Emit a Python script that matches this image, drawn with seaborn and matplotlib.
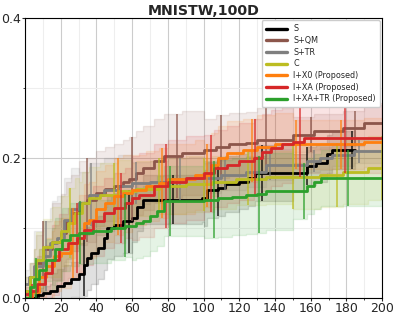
import numpy as np
import matplotlib
matplotlib.use("Agg")
import matplotlib.pyplot as plt
from matplotlib.ticker import MultipleLocator, FormatStrFormatter
import seaborn as sns

# step breakpoints (iteration, mean value)
s_x = [0, 6, 10, 14, 18, 22, 26, 30, 33, 35, 37, 41, 44, 46, 50, 55, 60, 63, 66, 99,
       102, 108, 112, 120, 125, 129, 158, 163, 169, 172, 185]
s_y = [0.0, 0.003, 0.006, 0.01, 0.016, 0.021, 0.026, 0.033, 0.047, 0.056, 0.064, 0.071, 0.085, 0.1, 0.104,
       0.109, 0.114, 0.13, 0.14, 0.143, 0.154, 0.157, 0.162, 0.166, 0.171, 0.178, 0.188, 0.192, 0.205, 0.211, 0.211]

sqm_x = [0, 3, 6, 10, 15, 20, 23, 26, 30, 35, 40, 45, 50, 55, 58, 62, 66, 72, 78, 88,
         100, 107, 114, 124, 130, 150, 162, 178, 190, 200]
sqm_y = [0.01, 0.03, 0.05, 0.07, 0.08, 0.093, 0.11, 0.121, 0.135, 0.14, 0.15, 0.155, 0.159, 0.165, 0.17,
         0.178, 0.185, 0.195, 0.202, 0.207, 0.211, 0.216, 0.219, 0.221, 0.226, 0.233, 0.238, 0.242, 0.25, 0.25]

str_x = [0, 2, 5, 10, 14, 18, 22, 26, 30, 36, 44, 52, 60, 70, 80, 92, 110, 124, 135, 158,
         165, 172, 184, 200]
str_y = [0.02, 0.03, 0.045, 0.059, 0.078, 0.085, 0.111, 0.126, 0.135, 0.147, 0.154, 0.159, 0.164, 0.166,
         0.169, 0.171, 0.176, 0.18, 0.19, 0.195, 0.199, 0.204, 0.209, 0.209]

c_x = [0, 3, 6, 10, 15, 20, 24, 28, 32, 36, 42, 52, 62, 75, 90, 105, 118, 135, 165, 178, 192, 200]
c_y = [0.01, 0.03, 0.054, 0.073, 0.08, 0.095, 0.107, 0.121, 0.135, 0.142, 0.147, 0.152, 0.156, 0.159,
       0.162, 0.165, 0.17, 0.172, 0.175, 0.18, 0.185, 0.185]

ix0_x = [0, 4, 8, 12, 16, 20, 26, 30, 33, 36, 40, 45, 50, 55, 60, 68, 75, 80, 95, 104,
         108, 113, 122, 130, 140, 190, 200]
ix0_y = [0.0, 0.008, 0.03, 0.045, 0.059, 0.064, 0.078, 0.092, 0.107, 0.111, 0.126, 0.135, 0.145, 0.149,
         0.154, 0.159, 0.164, 0.169, 0.175, 0.19, 0.2, 0.207, 0.211, 0.216, 0.219, 0.222, 0.222]

ixa_x = [0, 3, 7, 11, 15, 19, 24, 29, 33, 38, 44, 50, 56, 60, 64, 72, 80, 90, 100, 106,
         113, 120, 128, 133, 138, 144, 150, 156, 200]
ixa_y = [0.005, 0.01, 0.02, 0.035, 0.054, 0.069, 0.078, 0.085, 0.097, 0.11, 0.121, 0.128, 0.135, 0.143,
         0.147, 0.159, 0.166, 0.171, 0.178, 0.185, 0.19, 0.195, 0.2, 0.208, 0.214, 0.219, 0.223, 0.228, 0.228]

ixatr_x = [0, 3, 5, 8, 12, 17, 21, 25, 30, 38, 48, 56, 62, 66, 70, 74, 78, 100, 108, 116,
           124, 130, 135, 158, 162, 166, 200]
ixatr_y = [0.0, 0.015, 0.026, 0.04, 0.054, 0.069, 0.083, 0.09, 0.093, 0.095, 0.099, 0.103, 0.107, 0.109,
           0.116, 0.124, 0.138, 0.14, 0.142, 0.144, 0.146, 0.148, 0.152, 0.16, 0.166, 0.171, 0.171]

# std (band / error bar half width) on a coarse grid
std_x = [0, 5, 15, 30, 60, 100, 150]
s_sd = [0.005, 0.01, 0.025, 0.045, 0.035, 0.04, 0.027]
sqm_sd = [0.02, 0.04, 0.055, 0.06, 0.06, 0.045, 0.025]
str_sd = [0.02, 0.05, 0.06, 0.045, 0.03, 0.022, 0.016]
c_sd = [0.02, 0.04, 0.05, 0.045, 0.04, 0.038, 0.046]
ix0_sd = [0.01, 0.04, 0.05, 0.055, 0.05, 0.045, 0.035]
ixa_sd = [0.01, 0.04, 0.05, 0.05, 0.06, 0.055, 0.05]
ixatr_sd = [0.005, 0.03, 0.045, 0.045, 0.05, 0.055, 0.04]

labels = ["S", "S+QM", "S+TR", "C", "I+X0 (Proposed)", "I+XA (Proposed)", "I+XA+TR (Proposed)"]
colors = ["black", "#8c564b", "#7f7f7f", "#bcbd22", "#ff7f0e", "#d62728", "#2ca02c"]
err_offsets = [8, 10, 12, 0, 2, 4, 6]

series = [(s_x, s_y, s_sd), (sqm_x, sqm_y, sqm_sd), (str_x, str_y, str_sd), (c_x, c_y, c_sd),
          (ix0_x, ix0_y, ix0_sd), (ixa_x, ixa_y, ixa_sd), (ixatr_x, ixatr_y, ixatr_sd)]


def hold(bx, by, x):
    # hold the last breakpoint value (step function)
    idx = np.searchsorted(bx, x, side="right") - 1
    return np.asarray(by)[idx]


sns.set_style("ticks")
fig, ax = plt.subplots(figsize=(3.96, 3.16), dpi=100)
fig.subplots_adjust(left=0.063, right=0.965, bottom=0.0585, top=0.943)

for (bx, by, bsd), lab, col, off in zip(series, labels, colors, err_offsets):
    x = np.arange(0, bx[-1] + 1)
    m = hold(bx, by, x)
    sd = hold(std_x, bsd, x)
    ax.fill_between(x, m - sd, m + sd, step="post", color=col, alpha=0.12, lw=1)
    sns.lineplot(x=x, y=m, color=col, lw=2, drawstyle="steps-post", label=lab, ax=ax)
    ax.errorbar(x, m, yerr=sd, fmt="none", ecolor=col, elinewidth=1.2, alpha=0.8,
                errorevery=(off, 25))

ax.set_xlim(0, 200)
ax.set_ylim(0, 0.4)
ax.xaxis.set_major_locator(MultipleLocator(20))
ax.xaxis.set_minor_locator(MultipleLocator(10))
ax.yaxis.set_major_locator(MultipleLocator(0.2))
ax.yaxis.set_minor_locator(MultipleLocator(0.1))
ax.yaxis.set_major_formatter(FormatStrFormatter("%.1f"))
ax.grid(True, which="major", color="#cccccc", lw=0.8)
ax.grid(True, which="minor", color="#eeeeee", lw=0.8)
ax.set_axisbelow(True)
ax.tick_params(labelsize=9, length=2, pad=1)
ax.tick_params(which="minor", length=1.5)
for sp in ax.spines.values():
    sp.set_color("black")
    sp.set_linewidth(0.8)

ax.set_title("MNISTW,100D", fontsize=10.2, fontweight="bold", pad=2)
ax.set_xlabel("")
ax.set_ylabel("")
leg = ax.legend(loc="upper right", fontsize=5.8, handlelength=2.6, handletextpad=0.8,
                borderpad=0.5, labelspacing=0.33, framealpha=1, borderaxespad=0.3)
for ln in leg.get_lines():
    ln.set_linewidth(2.4)

fig.savefig("out.png", dpi=100)
